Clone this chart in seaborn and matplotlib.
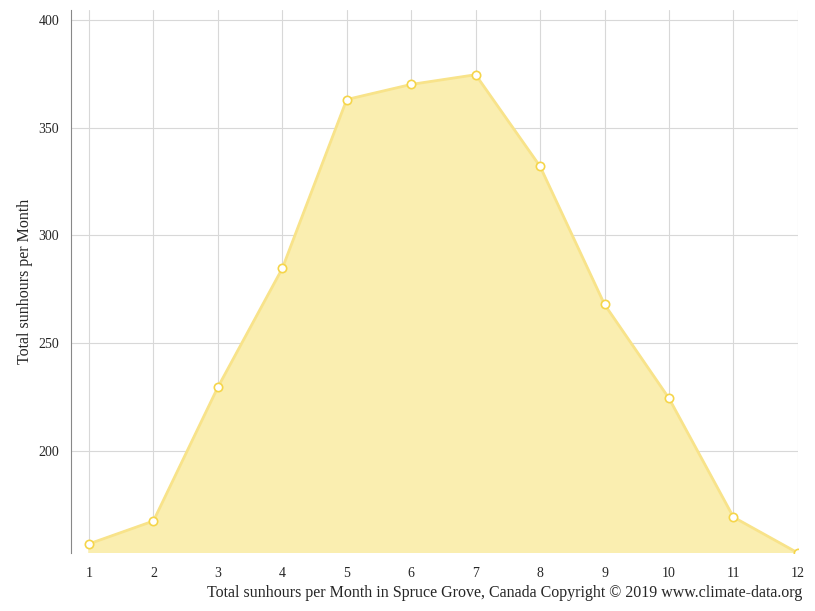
import matplotlib
matplotlib.use("Agg")
import matplotlib.pyplot as plt
import seaborn as sns
import pandas as pd

months = [1, 2, 3, 4, 5, 6, 7, 8, 9, 10, 11, 12]
sunhours = [157, 167.6, 229.6, 284.7, 363, 370, 374.5, 332, 268, 224.5, 169.4, 152.8]

df = pd.DataFrame({"month": months, "sun": sunhours})

sns.set_style("white")
plt.rcParams['font.family'] = ['Liberation Serif', 'DejaVu Serif']

fig = plt.figure(figsize=(8.15, 6.11), dpi=100)
ax = fig.add_axes([0.087, 0.095, 0.892, 0.889])

ax.fill_between(df["month"], df["sun"], 0, color="#faeeb0", zorder=2)
sns.lineplot(data=df, x="month", y="sun", ax=ax, color="#f8e38a", linewidth=2,
             marker="o", markersize=6, markerfacecolor="white",
             markeredgecolor="#f5d54a", markeredgewidth=1.2, zorder=3)

ax.set_xlim(0.72, 12)
ax.set_ylim(152.8, 404.6)
ax.set_xticks(months)
ax.set_yticks([200, 250, 300, 350, 400])
ax.grid(True, color="#d8d8d8", linewidth=0.8, zorder=0)
ax.set_axisbelow(True)

for s in ["top", "right", "bottom"]:
    ax.spines[s].set_visible(False)
ax.spines["left"].set_color("#888888")
ax.tick_params(axis="y", length=5, color="#888888", labelsize=10)
ax.tick_params(axis="x", length=0, labelsize=10, pad=10)

ax.set_ylabel("Total sunhours per Month", fontsize=11.5)
ax.set_xlabel("")
fig.text(0.984, 0.017, "Total sunhours per Month in Spruce Grove, Canada Copyright © 2019 www.climate-data.org",
         ha="right", va="bottom", fontsize=11.5)

fig.savefig("out.png", dpi=100)
